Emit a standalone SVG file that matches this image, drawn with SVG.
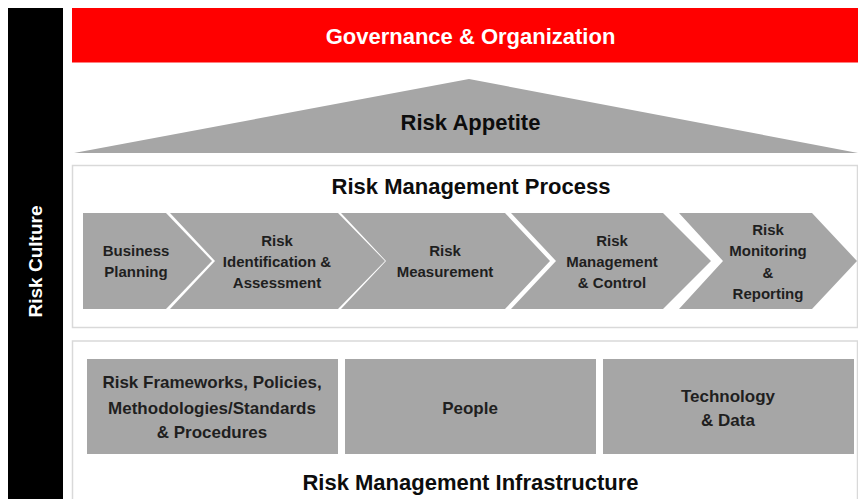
<svg xmlns="http://www.w3.org/2000/svg" width="858" height="499" viewBox="0 0 858 499">
<style>
.h{font-family:"Liberation Sans",Arial,sans-serif;font-weight:bold;font-size:22px;text-anchor:middle;fill:#0d0d0d}
.c{font-family:"Liberation Sans",Arial,sans-serif;font-weight:bold;font-size:15px;text-anchor:middle;fill:#1f1f1f}
.b{font-family:"Liberation Sans",Arial,sans-serif;font-weight:bold;font-size:17px;text-anchor:middle;fill:#1f1f1f}
.g{fill:#a6a6a6}
.frame{fill:#ffffff;stroke:#d9d9d9;stroke-width:1.5}
</style>
<rect width="858" height="499" fill="#ffffff"/>
<g id="risk-culture">
<rect x="8" y="8" width="55" height="491" fill="#000000"/>
<text class="h" x="42" y="261.5" font-size="19" style="font-size:19px;fill:#ffffff" transform="rotate(-90 42 261.5)">Risk Culture</text>
</g>
<g id="governance">
<rect x="72" y="8" width="786" height="54.5" fill="#ff0000"/>
<text class="h" x="470.5" y="43.5" style="fill:#ffffff">Governance &amp; Organization</text>
</g>
<g id="risk-appetite">
<polygon class="g" points="74,153 469,79 858,153"/>
<text class="h" x="470.5" y="130">Risk Appetite</text>
</g>
<g id="process">
<rect class="frame" x="72.5" y="165.5" width="785" height="162"/>
<text class="h" x="471" y="194">Risk Management Process</text>
</g>
<g id="step-1">
<polygon class="g" points="83,213 166,213 212,261 166,309 83,309"/>
<text class="c" x="136" y="256">Business</text>
<text class="c" x="136" y="277">Planning</text>
</g>
<g id="step-2">
<polygon class="g" points="170,213 338,213 385,261 338,309 170,309 215,261"/>
<text class="c" x="277" y="246">Risk</text>
<text class="c" x="277" y="267">Identification &amp;</text>
<text class="c" x="277" y="288">Assessment</text>
</g>
<g id="step-3">
<polygon class="g" points="341,213 505,213 550,261 505,309 341,309 386,261"/>
<text class="c" x="445" y="256">Risk</text>
<text class="c" x="445" y="277">Measurement</text>
</g>
<g id="step-4">
<polygon class="g" points="511,213 663,213 711,261 663,309 511,309 556,261"/>
<text class="c" x="612" y="246">Risk</text>
<text class="c" x="612" y="267">Management</text>
<text class="c" x="612" y="288">&amp; Control</text>
</g>
<g id="step-5">
<polygon class="g" points="679,213 812,213 857,261 812,309 679,309 723,261"/>
<text class="c" x="768" y="235">Risk</text>
<text class="c" x="768" y="256">Monitoring</text>
<text class="c" x="768" y="278">&amp;</text>
<text class="c" x="768" y="299">Reporting</text>
</g>
<g id="infrastructure">
<rect class="frame" x="72.5" y="341" width="785" height="175"/>
<text class="h" x="470.5" y="490">Risk Management Infrastructure</text>
</g>
<g id="frameworks">
<rect class="g" x="87" y="359" width="251" height="95"/>
<text class="b" x="212" y="388">Risk Frameworks, Policies,</text>
<text class="b" x="212" y="414">Methodologies/Standards</text>
<text class="b" x="212" y="438">&amp; Procedures</text>
</g>
<g id="people">
<rect class="g" x="345" y="359" width="251" height="95"/>
<text class="b" x="470" y="414">People</text>
</g>
<g id="technology">
<rect class="g" x="603" y="359" width="251" height="95"/>
<text class="b" x="728" y="402">Technology</text>
<text class="b" x="728" y="426">&amp; Data</text>
</g>
<g id="connectors"></g>
</svg>
